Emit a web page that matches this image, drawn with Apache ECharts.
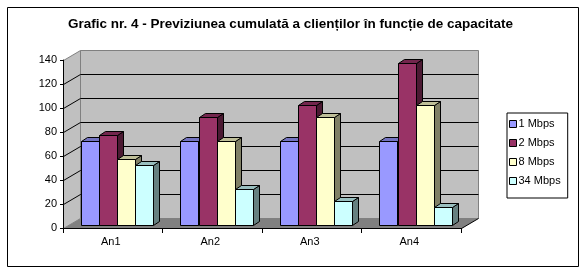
<!DOCTYPE html>
<html><head><meta charset="utf-8">
<script src="https://cdn.jsdelivr.net/npm/echarts@6/dist/echarts.min.js"></script>
<style>html,body{margin:0;padding:0;background:#fff}#c{width:581px;height:269px}</style>
</head><body><div id="c"></div>
<script>
const categories = ['An1', 'An2', 'An3', 'An4'];
const seriesNames = ['1 Mbps', '2 Mbps', '8 Mbps', '34 Mbps'];
const mbps1 = [70, 70, 70, 70];
const mbps2 = [75, 90, 100, 135];
const mbps8 = [55, 70, 90, 100];
const mbps34 = [50, 30, 20, 15];
const yTicks = [0, 20, 40, 60, 80, 100, 120, 140];

const allValues = [mbps1, mbps2, mbps8, mbps34];
const frontCol = ['#9999FF', '#993366', '#FFFFCC', '#CCFFFF'];
const topCol = ['#7373BF', '#73264D', '#BFBF99', '#99BFBF'];
const sideCol = ['#4C4C80', '#4C1A33', '#808066', '#668080'];
const FONT = "'Liberation Sans', Arial, sans-serif";
const DX = 17, DY = -10;

const chart = echarts.init(document.getElementById('c'), null, {renderer: 'canvas'});

function wallsRender(params, api) {
  const bw = api.size([1, 0])[0];
  const p0 = api.coord([0, 0]);
  const L = Math.round(p0[0] - bw / 2) + 0.5;
  const R = Math.round(api.coord([categories.length - 1, 0])[0] + bw / 2) + 0.5;
  const Y0 = Math.round(p0[1]) + 0.5;
  const yMax = yTicks[yTicks.length - 1];
  const YT = Math.round(api.coord([0, yMax])[1]) + 0.5;
  const ch = [];
  ch.push({type: 'polygon', shape: {points: [[L, Y0], [L, YT], [L + DX, YT + DY], [L + DX, Y0 + DY]]},
    style: {fill: '#C0C0C0', stroke: '#808080', lineWidth: 1}});
  ch.push({type: 'polygon', shape: {points: [[L + DX, YT + DY], [R + DX, YT + DY], [R + DX, Y0 + DY], [L + DX, Y0 + DY]]},
    style: {fill: '#C0C0C0', stroke: '#808080', lineWidth: 1}});
  ch.push({type: 'polygon', shape: {points: [[L, Y0], [R, Y0], [R + DX, Y0 + DY], [L + DX, Y0 + DY]]},
    style: {fill: '#808080', stroke: null}});
  yTicks.forEach(function (t) {
    if (t === 0 || t === yMax) return;
    const y = Math.round(api.coord([0, t])[1]) + 0.5;
    ch.push({type: 'polyline', shape: {points: [[L, y], [L + DX, y + DY], [R + DX, y + DY]]},
      style: {stroke: '#000', lineWidth: 1, fill: null}});
  });
  ch.push({type: 'line', shape: {x1: R, y1: Y0, x2: R + DX, y2: Y0 + DY}, style: {stroke: '#000', lineWidth: 1}});
  return {type: 'group', children: ch};
}

function barRender(k) {
  return function (params, api) {
    const cat = api.value(0), v = api.value(1);
    const bw = api.size([1, 0])[0];
    const c0 = api.coord([cat, 0]);
    const c1 = api.coord([cat, v]);
    const w = Math.round(0.1825 * bw);
    const x0 = Math.round(c0[0] - bw / 2 + 0.18 * bw + k * 0.1825 * bw) + 0.5;
    const x1 = x0 + w;
    const yb = Math.round(c0[1] - 3) + 0.5;
    const yt = Math.round(c1[1] - 3) + 0.5;
    const dx = 6, dy = -4;
    const st = {stroke: '#000', lineWidth: 1};
    return {type: 'group', children: [
      {type: 'polygon', shape: {points: [[x1, yt], [x1 + dx, yt + dy], [x1 + dx, yb + dy], [x1, yb]]},
        style: Object.assign({fill: sideCol[k]}, st)},
      {type: 'polygon', shape: {points: [[x0, yt], [x0 + dx, yt + dy], [x1 + dx, yt + dy], [x1, yt]]},
        style: Object.assign({fill: topCol[k]}, st)},
      {type: 'polygon', shape: {points: [[x0, yt], [x1, yt], [x1, yb], [x0, yb]]},
        style: Object.assign({fill: frontCol[k]}, st)}
    ]};
  };
}

const series = [{
  type: 'custom', name: '_walls', silent: true, z: 1,
  data: [[0, 0]], renderItem: wallsRender
}];
seriesNames.forEach(function (n, k) {
  series.push({
    type: 'custom', name: n, z: 5 + k,
    itemStyle: {color: frontCol[k]},
    data: allValues[k].map(function (v, i) { return [i, v]; }),
    renderItem: barRender(k)
  });
});

chart.setOption({
  animation: false,
  backgroundColor: '#fff',
  title: {
    text: 'Grafic nr. 4 - Previziunea cumulată a clienților în funcție de capacitate',
    left: 'center', top: 12,
    textStyle: {fontFamily: FONT, fontSize: 13.5, fontWeight: 'bold', color: '#000'}
  },
  graphic: [{type: 'rect', left: 5, top: 5, shape: {width: 571, height: 259},
    style: {fill: null, stroke: '#000', lineWidth: 1}, silent: true}],
  grid: {left: 63, right: 120, top: 60, bottom: 41, containLabel: false},
  legend: {
    orient: 'vertical', left: 507, top: 113,
    borderColor: '#000', borderWidth: 1, padding: [4, 7, 10, 2],
    itemWidth: 7, itemHeight: 7, itemGap: 5, icon: 'rect',
    textStyle: {fontFamily: FONT, fontSize: 11, color: '#000', lineHeight: 14, padding: [0, 0, 0, -3]},
    data: seriesNames.map(function (n, k) {
      return {name: n, itemStyle: {color: frontCol[k], borderColor: '#000', borderWidth: 1}};
    })
  },
  xAxis: {
    type: 'category', data: categories, z: 10,
    axisLine: {lineStyle: {color: '#000', width: 1}},
    axisTick: {show: true, length: 5, lineStyle: {color: '#000'}},
    axisLabel: {fontFamily: FONT, fontSize: 11, color: '#000', margin: 8, padding: [0, 4, 0, 0]},
    splitLine: {show: false}
  },
  yAxis: {
    type: 'value', min: 0, max: 140, interval: 20, z: 10,
    axisLine: {show: true, lineStyle: {color: '#000', width: 1}},
    axisTick: {show: true, length: 3, lineStyle: {color: '#000'}},
    axisLabel: {fontFamily: FONT, fontSize: 11, color: '#000', margin: 6},
    splitLine: {show: false}
  },
  series: series
});
</script></body></html>
